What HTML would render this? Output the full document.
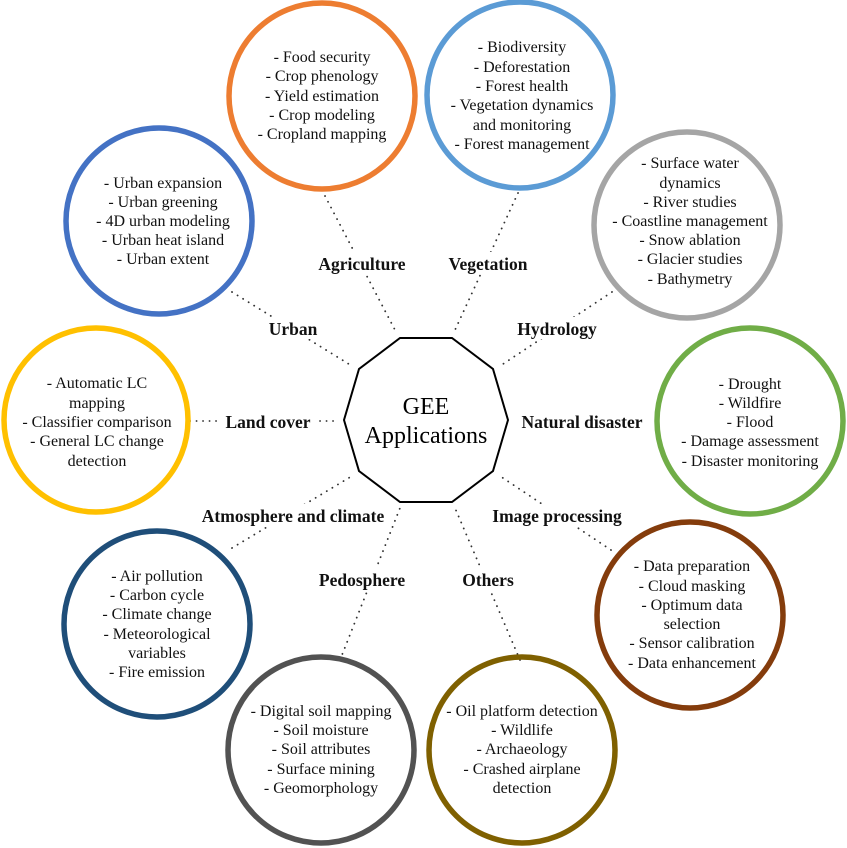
<!DOCTYPE html>
<html><head><meta charset="utf-8"><style>
html,body{margin:0;padding:0;background:#fff;font-family:"Liberation Serif","Times New Roman",serif;}
svg{display:block;font-family:"Liberation Serif","Times New Roman",serif;}
text{font-family:"Liberation Serif","Times New Roman",serif;}
.t{font-size:16px;text-anchor:middle;fill:#111;}
.l{font-size:17.5px;font-weight:bold;text-anchor:middle;fill:#111;}
.d{stroke:#333;stroke-width:1.8;stroke-dasharray:0.1 6.4;stroke-linecap:round;fill:none;}
.c{fill:none;stroke-width:5.5;}
</style></head><body>
<svg width="847" height="848" viewBox="0 0 847 848" font-family="Liberation Serif, Times New Roman, serif">
<path class="d" d="M325 196 L395 330"/>
<path class="d" d="M518 193 L455 330"/>
<path class="d" d="M232 292 L352 366"/>
<path class="d" d="M612 292 L500 366"/>
<path class="d" d="M190 421 L338 421"/>
<path class="d" d="M232 548 L352 476"/>
<path class="d" d="M611 550 L500 476"/>
<path class="d" d="M340 660 L400 508"/>
<path class="d" d="M520 660 L455 508"/>
<g fill="#fff">
<rect x="312" y="252" width="100" height="22"/>
<rect x="442" y="252" width="94" height="22"/>
<rect x="264" y="317" width="58" height="22"/>
<rect x="512" y="317" width="90" height="22"/>
<rect x="220" y="410" width="96" height="22"/>
<rect x="515" y="410" width="134" height="22"/>
<rect x="196" y="504" width="194" height="22"/>
<rect x="486" y="504" width="142" height="22"/>
<rect x="314" y="568" width="96" height="22"/>
<rect x="458" y="568" width="62" height="22"/>
</g>
<circle class="c" cx="322" cy="96" r="93" stroke="#ED7D31"/>
<circle class="c" cx="520" cy="95" r="93" stroke="#5B9BD5"/>
<circle class="c" cx="159" cy="221" r="93" stroke="#4472C4"/>
<circle class="c" cx="687" cy="225" r="93" stroke="#A5A5A5"/>
<circle class="c" cx="96" cy="420" r="92" stroke="#FFC000"/>
<circle class="c" cx="750" cy="421" r="93" stroke="#70AD47"/>
<circle class="c" cx="157" cy="624" r="93" stroke="#1F4E79"/>
<circle class="c" cx="690" cy="615" r="93" stroke="#843C0C"/>
<circle class="c" cx="321" cy="750" r="93" stroke="#525252"/>
<circle class="c" cx="522" cy="750" r="93" stroke="#7F6000"/>
<polygon points="400,338 452,338 493,369 508,420 493,471 452,502 400,502 359,471 344,420 359,369" fill="#fff" stroke="#000" stroke-width="2"/>
<text x="426" y="414" font-size="24" text-anchor="middle">GEE</text>
<text x="426" y="443" font-size="24" text-anchor="middle">Applications</text>
<text class="l" x="362" y="270">Agriculture</text>
<text class="l" x="488" y="270">Vegetation</text>
<text class="l" x="293" y="335">Urban</text>
<text class="l" x="557" y="335">Hydrology</text>
<text class="l" x="268" y="428">Land cover</text>
<text class="l" x="582" y="428">Natural disaster</text>
<text class="l" x="293" y="522">Atmosphere and climate</text>
<text class="l" x="557" y="522">Image processing</text>
<text class="l" x="362" y="586">Pedosphere</text>
<text class="l" x="488" y="586">Others</text>
<g class="t">
<text x="322" y="62">- Food security</text>
<text x="322" y="81">- Crop phenology</text>
<text x="322" y="101">- Yield estimation</text>
<text x="322" y="120">- Crop modeling</text>
<text x="322" y="139">- Cropland mapping</text>

<text x="522" y="52">- Biodiversity</text>
<text x="522" y="72">- Deforestation</text>
<text x="522" y="91">- Forest health</text>
<text x="522" y="110">- Vegetation dynamics</text>
<text x="522" y="130">and monitoring</text>
<text x="522" y="149">- Forest management</text>

<text x="163" y="188">- Urban expansion</text>
<text x="163" y="207">- Urban greening</text>
<text x="163" y="226">- 4D urban modeling</text>
<text x="163" y="245">- Urban heat island</text>
<text x="163" y="264">- Urban extent</text>

<text x="690" y="168">- Surface water</text>
<text x="690" y="188">dynamics</text>
<text x="690" y="207">- River studies</text>
<text x="690" y="226">- Coastline management</text>
<text x="690" y="245">- Snow ablation</text>
<text x="690" y="264">- Glacier studies</text>
<text x="690" y="284">- Bathymetry</text>

<text x="97" y="388">- Automatic LC</text>
<text x="97" y="408">mapping</text>
<text x="97" y="427">- Classifier comparison</text>
<text x="97" y="446">- General LC change</text>
<text x="97" y="466">detection</text>

<text x="750" y="389">- Drought</text>
<text x="750" y="408">- Wildfire</text>
<text x="750" y="427">- Flood</text>
<text x="750" y="446">- Damage assessment</text>
<text x="750" y="466">- Disaster monitoring</text>

<text x="157" y="581">- Air pollution</text>
<text x="157" y="600">- Carbon cycle</text>
<text x="157" y="619">- Climate change</text>
<text x="157" y="639">- Meteorological</text>
<text x="157" y="658">variables</text>
<text x="157" y="677">- Fire emission</text>

<text x="692" y="571">- Data preparation</text>
<text x="692" y="591">- Cloud masking</text>
<text x="692" y="610">- Optimum data</text>
<text x="692" y="629">selection</text>
<text x="692" y="648">- Sensor calibration</text>
<text x="692" y="668">- Data enhancement</text>

<text x="321" y="716">- Digital soil mapping</text>
<text x="321" y="735">- Soil moisture</text>
<text x="321" y="754">- Soil attributes</text>
<text x="321" y="774">- Surface mining</text>
<text x="321" y="793">- Geomorphology</text>

<text x="522" y="716">- Oil platform detection</text>
<text x="522" y="735">- Wildlife</text>
<text x="522" y="754">- Archaeology</text>
<text x="522" y="774">- Crashed airplane</text>
<text x="522" y="793">detection</text>
</g>
</svg>
</body></html>
